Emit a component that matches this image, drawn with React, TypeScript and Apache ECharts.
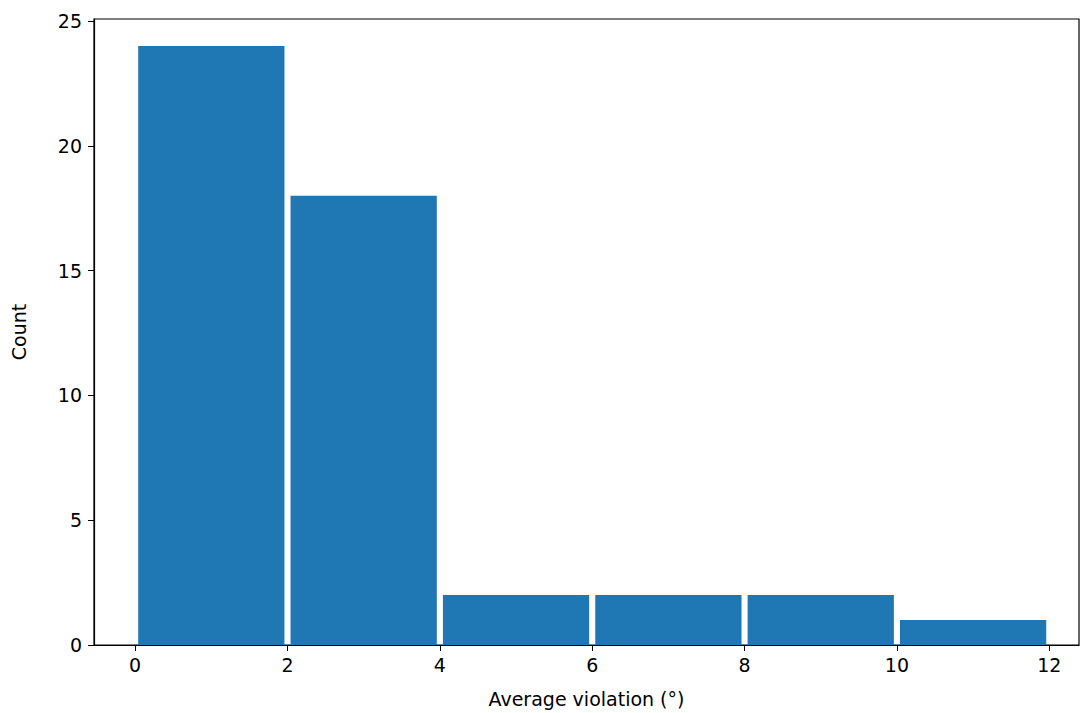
import { useEffect, useRef } from "react";
import * as echarts from "echarts";

const binStarts = [0, 2, 4, 6, 8, 10];
const binEnds = [2, 4, 6, 8, 10, 12];
const counts = [24, 18, 2, 2, 2, 1];
const xTicks = [0, 2, 4, 6, 8, 10, 12];
const yTicks = [0, 5, 10, 15, 20, 25];

export default function App() {
  const ref = useRef<HTMLDivElement | null>(null);

  useEffect(() => {
    document.body.style.margin = "0";
    if (!ref.current) return;
    const chart = echarts.init(ref.current, null, { renderer: "svg" });
    const font = "DejaVu Sans";
    const rw = 0.96;
    chart.setOption({
      animation: false,
      grid: { left: 94, right: 1, top: 19, bottom: 67, show: true, borderColor: "#000", borderWidth: 1.2 },
      xAxis: {
        type: "value",
        min: -0.54,
        max: 12.39,
        name: "Average violation (°)",
        nameLocation: "middle",
        nameGap: 44,
        nameTextStyle: { fontFamily: font, fontSize: 19, color: "#000" },
        splitLine: { show: false },
        axisLine: { show: true, onZero: false, lineStyle: { color: "#000", width: 1.2 } },
        axisTick: { show: true, customValues: xTicks, length: 6, inside: false, lineStyle: { color: "#000" } },
        axisLabel: { customValues: xTicks, fontFamily: font, fontSize: 19, color: "#000", margin: 10 },
      },
      yAxis: {
        type: "value",
        min: 0,
        max: 25.08,
        name: "Count",
        nameLocation: "middle",
        nameGap: 66,
        nameTextStyle: { fontFamily: font, fontSize: 19, color: "#000" },
        splitLine: { show: false },
        axisLine: { show: true, onZero: false, lineStyle: { color: "#000", width: 1.2 } },
        axisTick: { show: true, customValues: yTicks, length: 6, lineStyle: { color: "#000" } },
        axisLabel: { customValues: yTicks, fontFamily: font, fontSize: 19, color: "#000", margin: 12 },
      },
      series: [
        {
          type: "custom",
          data: counts.map((c, i) => [binStarts[i], binEnds[i], c]),
          encode: { x: [0, 1], y: 2 },
          renderItem: (_p: any, api: any) => {
            const s = api.value(0), e = api.value(1), c = api.value(2);
            const mid = (s + e) / 2, half = ((e - s) * rw) / 2;
            const p0 = api.coord([mid - half, c]);
            const p1 = api.coord([mid + half, 0]);
            return {
              type: "rect",
              shape: { x: p0[0], y: p0[1], width: p1[0] - p0[0], height: p1[1] - p0[1] },
              style: { fill: "#1f77b4" },
            };
          },
        },
      ],
    });
    return () => chart.dispose();
  }, []);

  return <div ref={ref} style={{ width: 1080, height: 713 }} />;
}
